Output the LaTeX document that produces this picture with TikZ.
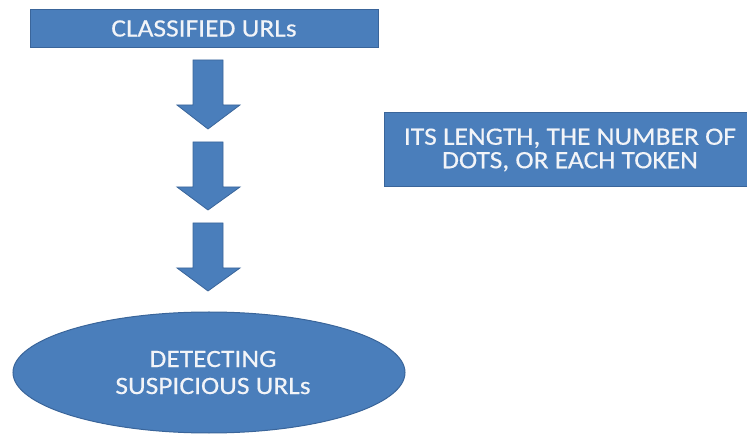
\documentclass[tikz,border=0pt]{standalone}
\usepackage{fontspec}
\setmainfont{Carlito}
\newfontfamily\labelfont[FakeStretch=1.1,FakeBold=0.4]{Carlito}
\usetikzlibrary{shapes.geometric}
\definecolor{boxfill}{HTML}{4A7EBB}
\definecolor{boxline}{HTML}{3A659A}
\definecolor{labeltext}{HTML}{F2F4F8}
\tikzset{
  blockbox/.style={draw=boxline, line width=1pt, fill=boxfill, inner sep=0pt,
                   text=labeltext, align=center},
  downarrow/.style={draw=boxline, line width=0.8pt, fill=boxfill, line join=miter}
}
\newcommand{\downblock}[2]{% #1 = top of shaft, #2 = tip
  \draw[downarrow] (193,-#1) -- (223,-#1) -- (223,-#1-45) -- (240,-#1-45)
    -- (208,-#2) -- (177,-#1-45) -- (193,-#1-45) -- cycle;}
\begin{document}
\begin{tikzpicture}[x=1pt,y=1pt]
  \useasboundingbox (0,0) rectangle (747,-435);
  % source box
  \node[blockbox, minimum width=348pt, minimum height=38pt,
        font=\labelfont\fontsize{25}{25}\selectfont]
    (classified) at (204,-28.5) {CLASSIFIED URLs};
  % feature box on the right (runs off the edge)
  \node[blockbox, minimum width=370pt, minimum height=74pt,
        font=\labelfont\fontsize{25}{23.5}\selectfont]
    (features) at (569,-150) {\hspace*{2pt}ITS LENGTH, THE NUMBER OF\\\hspace*{2pt}DOTS, OR EACH TOKEN};
  % three block arrows
  \downblock{60}{129}
  \downblock{142}{210}
  \downblock{223}{291}
  % result ellipse
  \node[blockbox, ellipse, minimum width=392pt, minimum height=121pt,
        font=\labelfont\fontsize{25}{27}\selectfont]
    (detect) at (209,-372.5) {\hspace*{8pt}DETECTING\\\hspace*{8pt}SUSPICIOUS URLs};
\end{tikzpicture}
\end{document}
